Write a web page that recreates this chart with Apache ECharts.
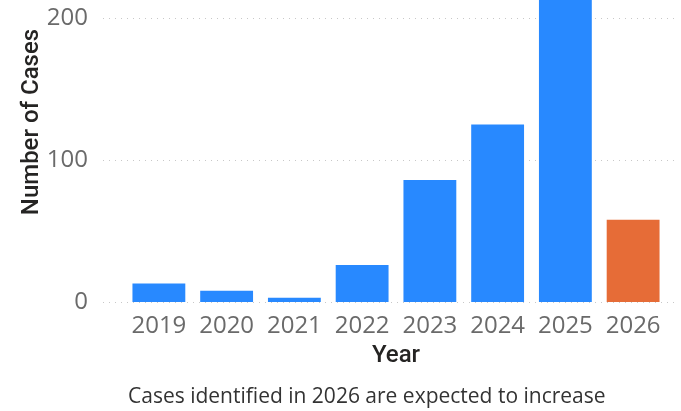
<!DOCTYPE html>
<html>
<head>
<meta charset="utf-8">
<script src="https://cdn.jsdelivr.net/npm/echarts@6/dist/echarts.min.js"></script>
<style>
  html, body { margin: 0; padding: 0; background: #fff; }
  #chart { width: 681px; height: 411px; }
</style>
</head>
<body>
<div id="chart"></div>
<script>
// Yearly case counts; the last year is still in progress
const years = ['2019', '2020', '2021', '2022', '2023', '2024', '2025', '2026'];
const cases = [13, 8, 3, 26, 86, 125, 230, 58];
const partialYear = '2026';
const yTicks = [0, 100, 200];
const yTitle = 'Number of Cases';
const xTitle = 'Year';
const footnote = 'Cases identified in 2026 are expected to increase';

const BLUE = '#2889FF';
const ORANGE = '#E66C37';
const labelFont = '"Open Sans", "Noto Sans", sans-serif';
const titleFont = 'Roboto, "DejaVu Sans", sans-serif';

const chart = echarts.init(document.getElementById('chart'), null, { renderer: 'canvas' });

const yMin = yTicks[0];
const yMax = yTicks[yTicks.length - 1];
const yStep = yTicks[1] - yTicks[0];

chart.setOption({
  animation: false,
  title: {
    text: footnote,
    left: 123,
    top: 382,
    textStyle: { fontFamily: labelFont, fontSize: 21, fontWeight: 'normal', color: '#333' }
  },
  graphic: [{
    type: 'text',
    x: 32,
    y: 122,
    rotation: Math.PI / 2,
    style: {
      text: yTitle,
      fontFamily: titleFont, fontSize: 24, fontWeight: 500, fill: '#252423',
      textAlign: 'center', textVerticalAlign: 'middle'
    }
  }],
  grid: [
    // wide grid: gridlines and value labels
    { left: 103, right: 4, top: 18, bottom: 109, containLabel: false },
    // inner grid: the bars and category labels
    { left: 125, right: 14, top: 18, bottom: 109, containLabel: false }
  ],
  xAxis: [
    { type: 'value', gridIndex: 0, min: 0, max: 1, show: false },
    {
      type: 'category', gridIndex: 1, data: years,
      axisLine: { show: false }, axisTick: { show: false },
      axisLabel: { interval: 0, fontFamily: labelFont, fontSize: 24, color: '#6a6a6a', margin: 12 },
      name: xTitle, nameLocation: 'middle', nameGap: 42,
      nameTextStyle: { fontFamily: titleFont, fontSize: 24, fontWeight: 500, color: '#252423' }
    }
  ],
  yAxis: [
    {
      type: 'value', gridIndex: 0, min: yMin, max: yMax, interval: yStep,
      axisLine: { show: false }, axisTick: { show: false },
      axisLabel: { fontFamily: labelFont, fontSize: 24, color: '#6a6a6a', margin: 15 },
      splitLine: { show: true, lineStyle: { color: '#c8c8c8', width: 1, type: [1, 5] } }
    },
    {
      type: 'value', gridIndex: 1, min: yMin, max: yMax, interval: yStep, show: false,
      splitLine: { show: false }
    }
  ],
  series: [{
    type: 'bar',
    xAxisIndex: 1,
    yAxisIndex: 1,
    clip: false,
    barCategoryGap: '22%',
    data: cases.map((v, i) => ({
      value: v,
      itemStyle: { color: years[i] === partialYear ? ORANGE : BLUE }
    }))
  }]
});
</script>
</body>
</html>
